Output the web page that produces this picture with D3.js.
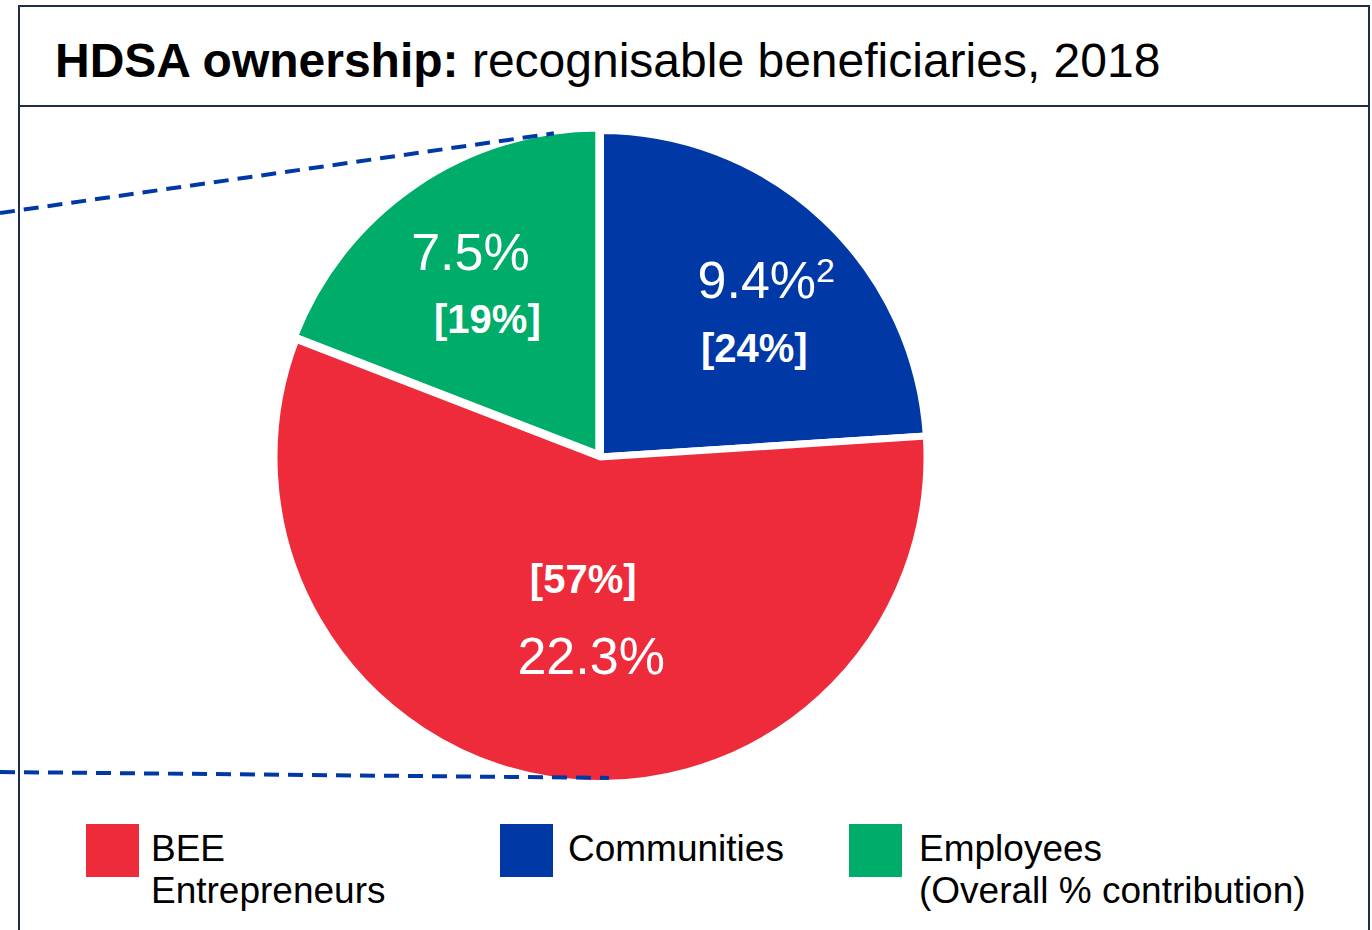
<!DOCTYPE html>
<html>
<head>
<meta charset="utf-8">
<script src="https://cdn.jsdelivr.net/npm/d3@7"></script>
<style>
  html, body { margin: 0; padding: 0; background: #ffffff; }
  svg { display: block; font-family: "Liberation Sans", Arial, Helvetica, sans-serif; }
</style>
</head>
<body>
<svg id="chart" width="1372" height="930"></svg>
<script>
// Beneficiary groups, their overall % ownership and share of HDSA ownership
const categories = ["Communities", "BEE Entrepreneurs", "Employees"];
const values = [9.4, 22.3, 7.5];
const shares = ["[24%]", "[57%]", "[19%]"];
const valueLabels = ["9.4%", "22.3%", "7.5%"];
const footnotes = ["2", "", ""];
const colors = ["#0039A6", "#EE2B3B", "#00AC69"];

// Legend order and wording
const legendKeys = ["BEE Entrepreneurs", "Communities", "Employees"];
const legendLines = [["BEE", "Entrepreneurs"], ["Communities"], ["Employees", "(Overall % contribution)"]];

const titleBold = "HDSA ownership:";
const titleRest = " recognisable beneficiaries, 2018";

const svg = d3.select("#chart");
const W = 1372, H = 930;
const font = "'Liberation Sans', Arial, Helvetica, sans-serif";

// Frame and title bar
const frame = { x: 19, y: 6, w: 1350, titleY: 106 };
const border = "#1d2d4a";

// Pie geometry
const cx = 600.5, cy = 457, R = 326.5, gap = 7;

const pie = d3.pie().sort(null).value(d => d.value).startAngle(0).endAngle(2 * Math.PI);
const data = categories.map((c, i) => ({
  name: c, value: values[i], share: shares[i], label: valueLabels[i], note: footnotes[i], color: colors[i]
}));
const arcs = pie(data);
const arc = d3.arc().innerRadius(0).outerRadius(R);
const labelArc = d3.arc().innerRadius(200).outerRadius(200);

// Frame
svg.append("rect")
  .attr("x", frame.x).attr("y", frame.y)
  .attr("width", frame.w).attr("height", H + 20 - frame.y)
  .attr("fill", "none").attr("stroke", border).attr("stroke-width", 2);
svg.append("line")
  .attr("x1", frame.x).attr("x2", frame.x + frame.w)
  .attr("y1", frame.titleY).attr("y2", frame.titleY)
  .attr("stroke", border).attr("stroke-width", 2);

// Title
const title = svg.append("text")
  .attr("x", 55).attr("y", 77)
  .attr("font-size", 48).attr("fill", "#000").style("font-family", font);
title.append("tspan").attr("font-weight", "bold").text(titleBold);
title.append("tspan").attr("font-weight", "normal").text(titleRest);

// Slices (Employees sits slightly proud of the others)
const explode = { "Employees": 3 };
const g = svg.append("g").attr("transform", `translate(${cx},${cy})`);
g.selectAll("path").data(arcs).join("path")
  .attr("d", arc)
  .attr("fill", d => d.data.color)
  .attr("stroke", "#ffffff")
  .attr("stroke-width", gap)
  .attr("stroke-linejoin", "miter")
  .attr("transform", d => {
    const e = explode[d.data.name] || 0;
    const a = (d.startAngle + d.endAngle) / 2;
    return `translate(${e * Math.sin(a)},${-e * Math.cos(a)})`;
  });

// Dashed connector lines reaching the pie rim from the left
const pt = (ang, r) => [cx + r * Math.sin(ang), cy - r * Math.cos(ang)];
const topEnd = pt(-8.2 * Math.PI / 180, 327);
const botEnd = pt(178.5 * Math.PI / 180, 321);
const connectors = [
  [[0, 213], topEnd],
  [[0, 772], botEnd]
];
svg.append("g").selectAll("line").data(connectors).join("line")
  .attr("x1", d => d[0][0]).attr("y1", d => d[0][1])
  .attr("x2", d => d[1][0]).attr("y2", d => d[1][1])
  .attr("stroke", "#0039A6").attr("stroke-width", 4)
  .attr("stroke-dasharray", "15 9");

// Per-slice label placement relative to the label-arc centroid
const labelLayout = {
  "Communities":       { value: [29, -13], share: [17, 51] },
  "BEE Entrepreneurs": { value: [21, 19],  share: [13, -62] },
  "Employees":         { value: [-17, -22], share: [0, 41] }
};

arcs.forEach(d => {
  const [lx, ly] = labelArc.centroid(d);
  const lay = labelLayout[d.data.name];
  const v = g.append("text")
    .attr("x", lx + lay.value[0]).attr("y", ly + lay.value[1])
    .attr("text-anchor", "middle")
    .attr("font-size", 52).attr("fill", "#fff").style("font-family", font)
    .text(d.data.label);
  if (d.data.note) {
    v.append("tspan").attr("font-size", 34).attr("dy", -16).text(d.data.note);
  }
  g.append("text")
    .attr("x", lx + lay.share[0]).attr("y", ly + lay.share[1])
    .attr("text-anchor", "middle")
    .attr("font-size", 40).attr("font-weight", "bold").attr("fill", "#fff").style("font-family", font)
    .text(d.data.share);
});

// Legend
const legendPos = [{ sx: 86, tx: 151 }, { sx: 500, tx: 568 }, { sx: 849, tx: 919 }];
const colorOf = d3.scaleOrdinal().domain(categories).range(colors);
const leg = svg.append("g");
legendKeys.forEach((k, i) => {
  const p = legendPos[i];
  leg.append("rect")
    .attr("x", p.sx).attr("y", 824).attr("width", 53).attr("height", 53)
    .attr("fill", colorOf(k));
  const t = leg.append("text")
    .attr("x", p.tx).attr("y", 861)
    .attr("font-size", 37).attr("fill", "#000").style("font-family", font);
  legendLines[i].forEach((line, j) => {
    t.append("tspan").attr("x", p.tx).attr("dy", j === 0 ? 0 : 42).text(line);
  });
});
</script>
</body>
</html>
